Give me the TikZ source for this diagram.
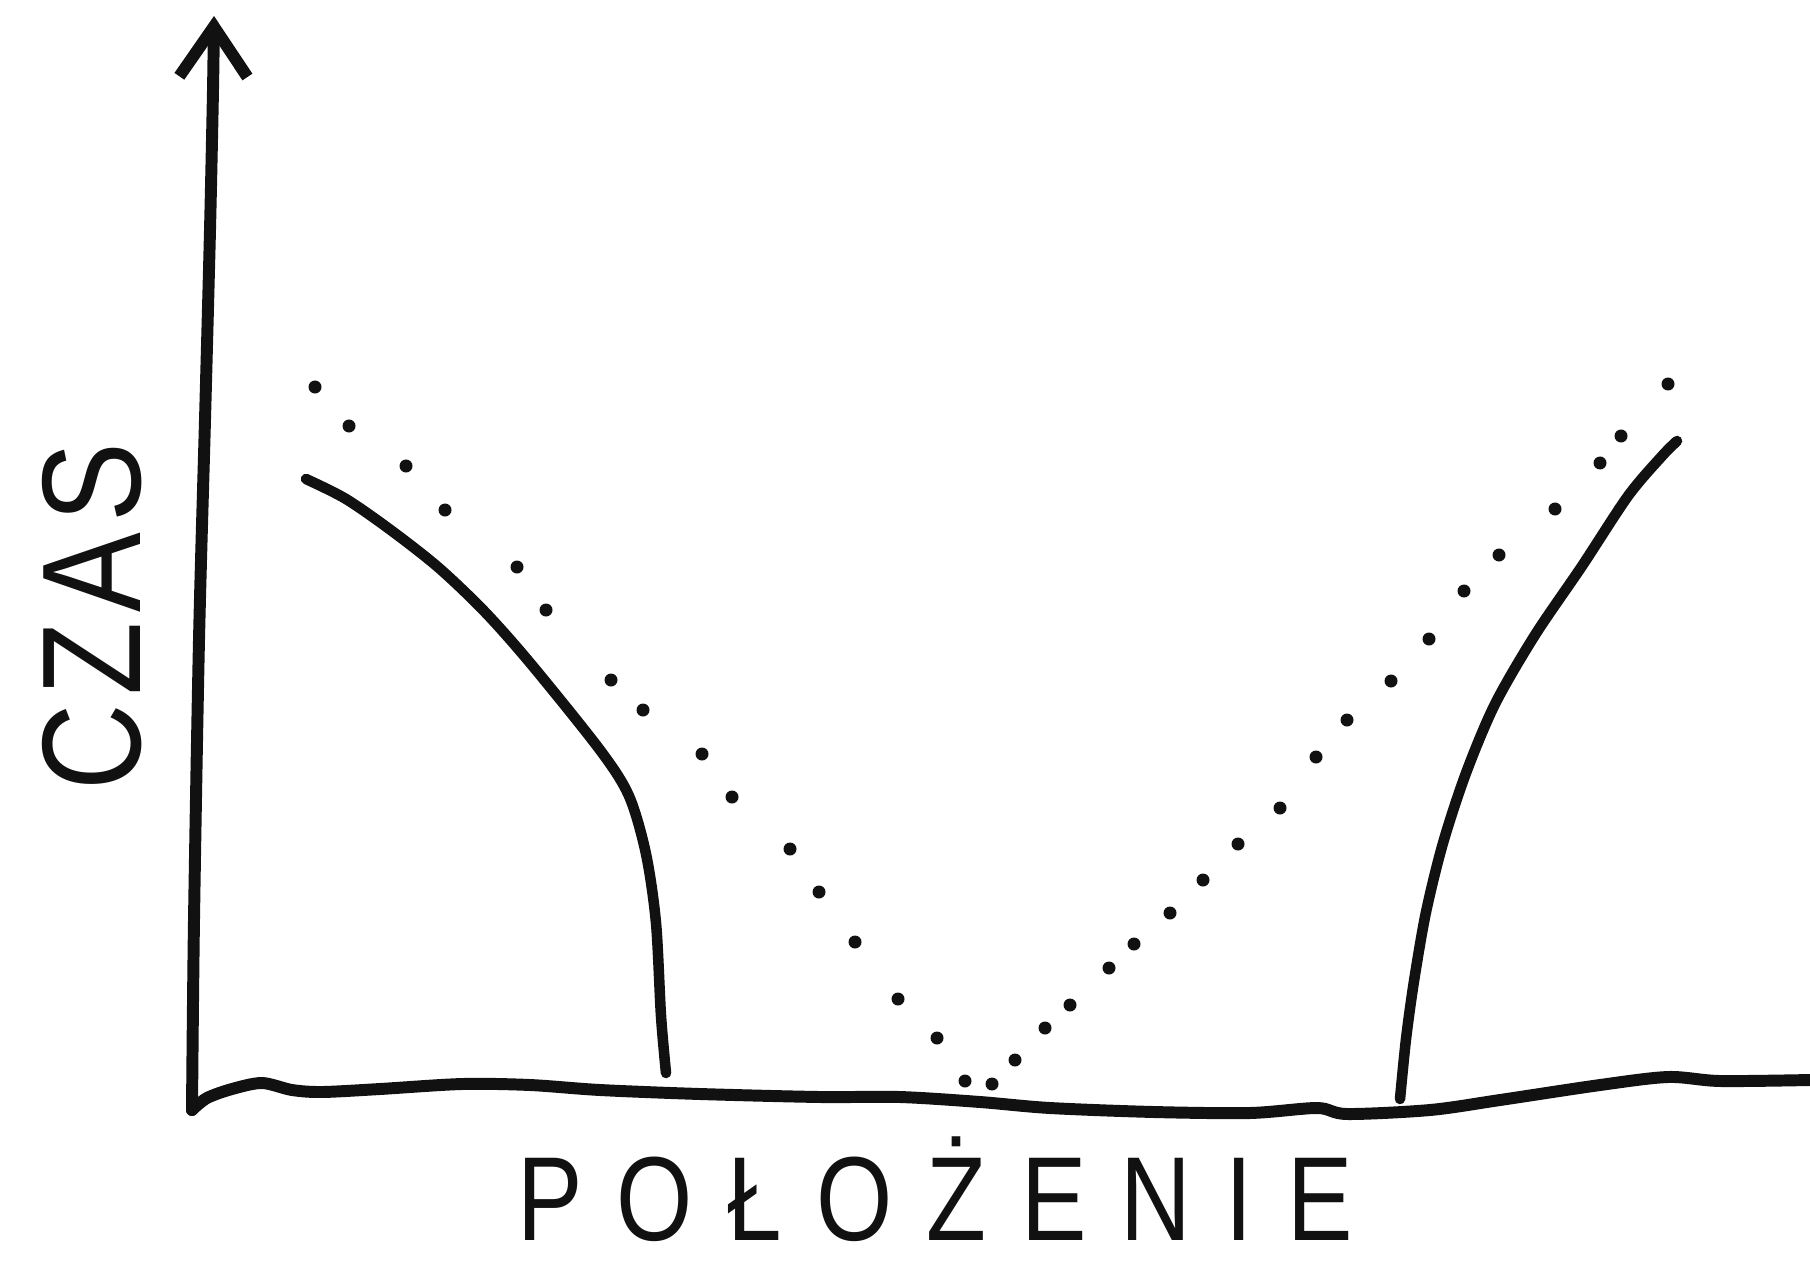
\documentclass[tikz,border=0pt]{standalone}
\usepackage{fontspec}
\setmainfont{Liberation Sans}
\newfontfamily\sketchfont[LetterSpace=35]{Liberation Sans}
\newfontfamily\sketchfontv[LetterSpace=8]{Liberation Sans}
\usepackage{graphicx}
\usetikzlibrary{arrows.meta}
\definecolor{cink}{HTML}{111111}

\begin{document}
\begin{tikzpicture}[
  x=0.01cm, y=-0.01cm,
  axis/.style={draw=cink, line width=3.4pt, line cap=round, line join=round},
  curve/.style={draw=cink, line width=3pt, line cap=round},
  handlabel/.style={text=cink, inner sep=0pt}
]
\useasboundingbox (0,0) rectangle (1810,1261);

% ============================================================
% Axes: time goes up, position goes to the right.
\coordinate (origin) at (192,1110);
\coordinate (ytip) at (214,16);
\coordinate (xend) at (1810,1080);

\draw[axis, -{Straight Barb[length=5mm, width=6.8mm]}] plot[smooth] coordinates
  {(origin) (194,920) (199,640) (205,420) (210,230) (213,90) (ytip)};
\draw[axis] plot[smooth] coordinates
  {(origin) (207,1098) (232,1089) (262,1083) (292,1090) (322,1092) (380,1089)
   (462,1084) (530,1085) (600,1090) (700,1094) (820,1097) (900,1097)
   (980,1102) (1050,1108) (1154,1112) (1250,1113) (1317,1108) (1347,1114)
   (1430,1110) (1500,1100) (1600,1085) (1668,1077) (1720,1081) (xend)};

% ============================================================
% Solid curves on both sides.
\draw[curve] plot[smooth] coordinates
  {(306,479) (346,499) (392,531) (439,568) (485,612) (531,664)
   (600,750) (629,796) (646,854) (656,923) (661,1016) (666,1073)};
\draw[curve] plot[smooth] coordinates
  {(1400,1099) (1406,1039) (1414,981) (1426,912) (1443,843) (1466,773)
   (1495,704) (1535,635) (1582,566) (1628,496) (1662,456) (1677,441)};

% ============================================================
% Dotted V between the curves (each dot placed by hand).
\foreach \dx/\dy in {315/387, 349/426, 406/466, 445/510, 517/567, 546/610,
    611/680, 643/710, 702/754, 732/797, 790/849, 819/892, 855/942,
    898/999, 937/1038, 965/1081, 992/1084,
    1015/1060, 1045/1028, 1070/1005, 1109/968, 1134/944, 1170/913,
    1203/880, 1238/844, 1280/808, 1316/757, 1347/720, 1391/681,
    1429/639, 1464/591, 1499/555, 1555/509, 1600/463, 1621/436, 1668/384}
  \fill[cink] (\dx,\dy) circle[radius=0.065cm];

% ============================================================
% Axis labels
\node[handlabel, rotate=90, anchor=base] (czas) at (140,617)
  {\fontsize{40}{40}\sketchfontv\scalebox{0.85}[1]{CZAS}};
\node[handlabel, anchor=base] (polozenie) at (935,1240)
  {\fontsize{34}{34}\sketchfont\scalebox{0.82}[1]{POŁOŻENIE}};

\end{tikzpicture}
\end{document}
